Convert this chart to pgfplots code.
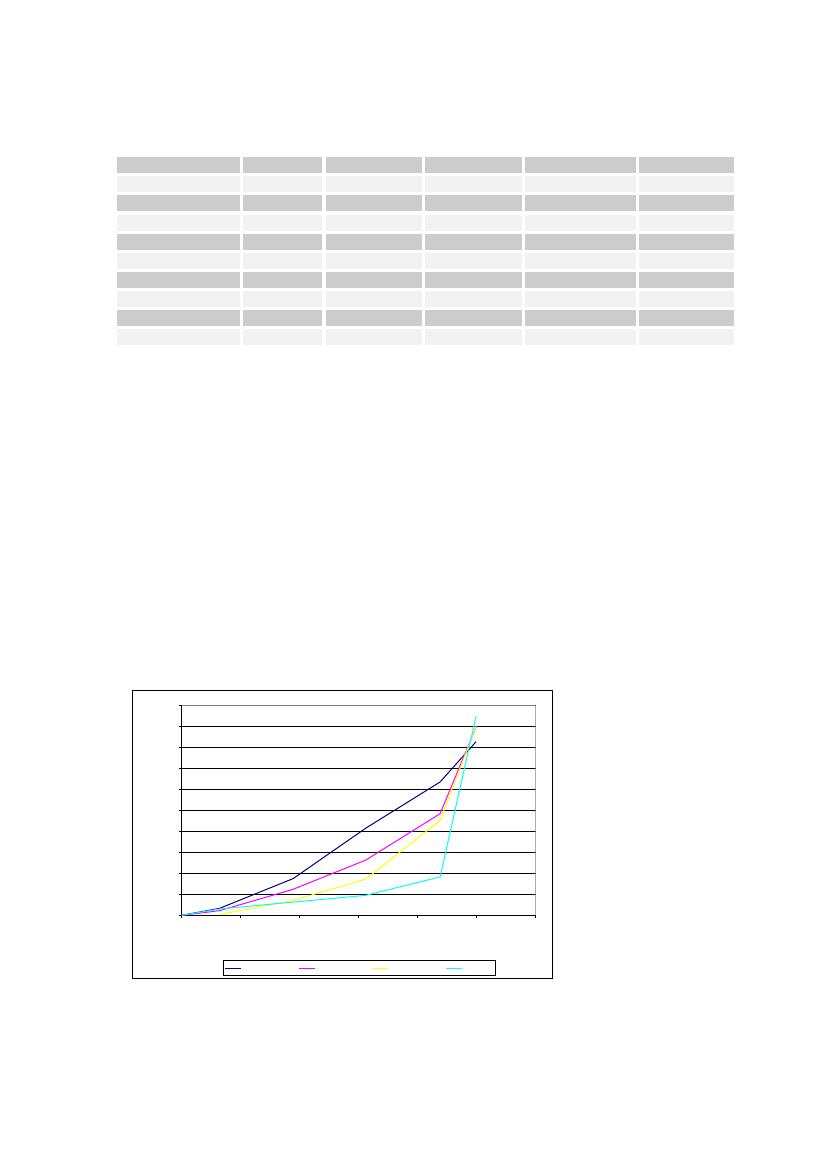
\documentclass[border=0pt]{standalone}
\usepackage{pgfplots}
\usepackage{pgfplotstable}
\pgfplotsset{compat=1.18}
\definecolor{cdark}{RGB}{204,204,204}
\definecolor{clight}{RGB}{242,242,242}
\definecolor{navyc}{RGB}{0,0,128}
\definecolor{magc}{RGB}{255,0,255}
\definecolor{yelc}{RGB}{255,255,0}
\definecolor{cyac}{RGB}{0,255,255}
\definecolor{grayb}{RGB}{128,128,128}
\pgfplotstableread{
x     blue  magenta yellow cyan
0     0     0       nan    0
0.64  0.33  0.22    0.04   0.30
1.89  1.75  1.24    0.71   0.63
3.12  4.15  2.63    1.72   0.95
4.38  6.35  4.84    4.52   1.83
4.99  8.27  8.97    9.00   9.48
}\chartdata
\begin{document}
\begin{tikzpicture}
\begin{scope}[x=0.75pt,y=-0.75pt]
\path (0,0) rectangle (827,1169);
\foreach \r in {0,...,9}{
  \pgfmathsetmacro{\yt}{157.3+19.08*\r}
  \pgfmathsetmacro{\yb}{\yt+16}
  \ifodd\r\relax \def\cc{clight}\else\def\cc{cdark}\fi
  \foreach \xa/\xb in {117.3/240,243.3/322.3,326/422,425/521.7,525/636,639.3/734.3}{
    \fill[\cc] (\xa,\yt) rectangle (\xb,\yb);
  }
}
\draw[black, line width=0.75pt] (132.7,690.7) rectangle (552.7,978);
\end{scope}
\begin{axis}[
  at={(136.275pt,-686.475pt)}, anchor=south west,
  scale only axis, width=265.5pt, height=157.5pt,
  xmin=0, xmax=6, ymin=0, ymax=10,
  xtick={0,...,6}, ytick={0,...,10},
  xticklabels={,,,,,,}, yticklabels={,,,,,,,,,,},
  axis x line*=bottom, axis y line*=left,
  axis line style={black, line width=0.75pt},
  tick align=outside, major tick length=2pt,
  tick style={black, line width=0.75pt},
  ymajorgrids, grid style={black, line width=0.75pt},
  legend columns=4,
  legend image code/.code={\draw[#1, line width=0.75pt] (0pt,0pt) -- (12pt,0pt);},
  legend style={at={(0.1158,-0.2114)}, anchor=north west, draw=black,
    line width=0.75pt, inner xsep=1pt, inner ysep=0pt, fill=white,
    nodes={inner sep=0pt, minimum height=11.7pt, text width=23.75pt, text depth=0pt, anchor=center},
    /tikz/every even column/.append style={column sep=18.7pt}},
]
\draw[grayb, line width=0.75pt] (rel axis cs:0,1) -- (rel axis cs:1,1) -- (rel axis cs:1,0);
\addplot[navyc, line width=0.75pt, mark=none] table[x=x, y=blue] {\chartdata};
\addlegendentry{}
\addplot[magc, line width=0.75pt, mark=none] table[x=x, y=magenta] {\chartdata};
\addlegendentry{}
\addplot[yelc, line width=0.75pt, mark=none] table[x=x, y=yellow] {\chartdata};
\addlegendentry{}
\addplot[cyac, line width=0.75pt, mark=none] table[x=x, y=cyan] {\chartdata};
\addlegendentry{}
\end{axis}
\end{tikzpicture}
\end{document}
